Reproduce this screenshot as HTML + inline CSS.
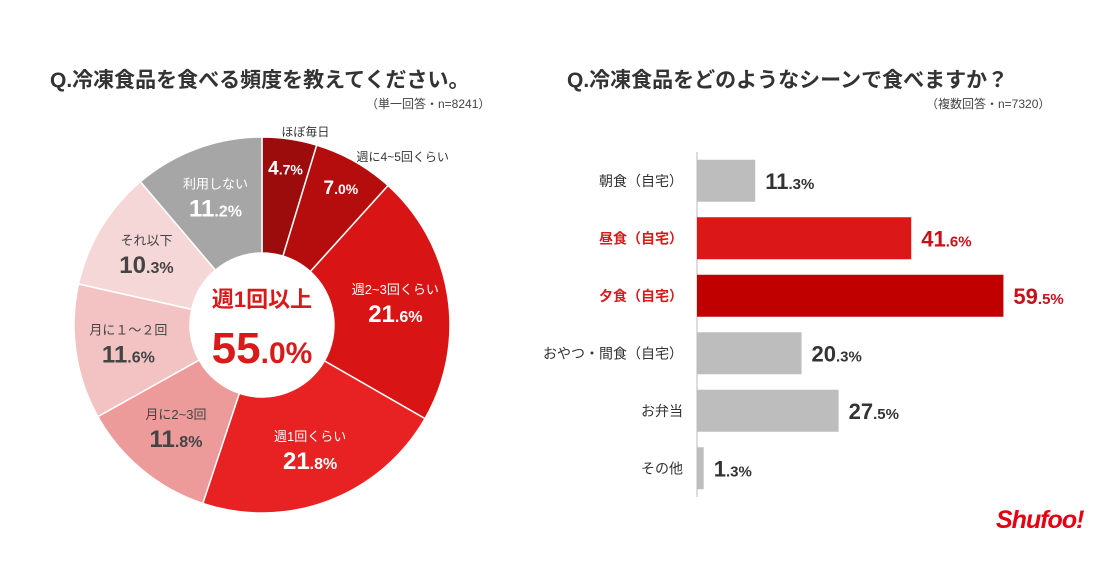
<!DOCTYPE html>
<html><head><meta charset="utf-8">
<style>
body{margin:0;width:1117px;height:586px;background:#fff;font-family:"Liberation Sans","Noto Sans CJK JP",sans-serif;overflow:hidden;position:relative}
.t{position:absolute;font-weight:bold;color:#333;font-size:21px;white-space:nowrap}
.s{position:absolute;color:#444;font-size:12px;white-space:nowrap}
svg{position:absolute;left:0;top:0}
</style></head><body>
<div class="t" style="left:50px;top:64px">Q.冷凍食品を食べる頻度を教えてください。</div>
<div class="s" style="left:366px;top:95px">（単一回答・n=8241）</div>
<div class="t" style="left:567px;top:64px">Q.冷凍食品をどのようなシーンで食べますか？</div>
<div class="s" style="left:926px;top:95px">（複数回答・n=7320）</div>
<svg id="c" width="1117" height="586"></svg>
<div style="position:absolute;left:996px;top:506px;color:#e50012;font-weight:bold;font-size:25px;font-style:italic;letter-spacing:-1px">Shufoo!</div>
<script>
const pieLabels=["ほぼ毎日","週に4~5回くらい","週2~3回くらい","週1回くらい","月に2~3回","月に１～２回","それ以下","利用しない"];
const pieValues=[4.7,7.0,21.6,21.8,11.8,11.6,10.3,11.2];
const pieColors=["#9c0c0c","#b50d0d","#d91414","#e82222","#ec9a9a","#f3c3c3","#f6d7d7","#a6a6a6"];
const barCats=["朝食（自宅）","昼食（自宅）","夕食（自宅）","おやつ・間食（自宅）","お弁当","その他"];
const barValues=[11.3,41.6,59.5,20.3,27.5,1.3];
const barColors=["#bdbdbd","#dc1717","#c00000","#bdbdbd","#bdbdbd","#bdbdbd"];
const NS="http://www.w3.org/2000/svg";
const svg=document.getElementById('c');
function mk(tag,attrs,parent){const e=document.createElementNS(NS,tag);for(const k in attrs)e.setAttribute(k,attrs[k]);(parent||svg).appendChild(e);return e;}
function pctText(parent,x,y,v,big,small,color,anchor){
  const s=v.toFixed(1).split('.');
  const t=mk('text',{x:x,y:y,'text-anchor':anchor,fill:color,'font-weight':'bold','font-size':big,'font-family':'Liberation Sans, sans-serif'},parent);
  t.textContent=s[0];
  const d=mk('tspan',{'font-size':small},t);d.textContent='.'+s[1]+'%';
  return t;
}
const cx=262,cy=325,R=188,r=72;
const total=pieValues.reduce((a,b)=>a+b,0);
let acc=0;
const pt=(a,rad)=>[cx+rad*Math.sin(a),cy-rad*Math.cos(a)];
pieValues.forEach((v,i)=>{
  const a0=acc/total*2*Math.PI;acc+=v;const a1=acc/total*2*Math.PI;
  const lg=(a1-a0)>Math.PI?1:0;
  const [x0,y0]=pt(a0,R),[x1,y1]=pt(a1,R),[x2,y2]=pt(a1,r),[x3,y3]=pt(a0,r);
  const p=mk('path',{d:`M${x0},${y0}A${R},${R} 0 ${lg} 1 ${x1},${y1}L${x2},${y2}A${r},${r} 0 ${lg} 0 ${x3},${y3}Z`,fill:pieColors[i],stroke:'#fff','stroke-width':1.5});
  
  
  const am=(a0+a1)/2;
  const small=i<2;
  const g=mk('g',{});
  
  
  const lc=(i==4||i==5||i==6)?'#444':'#fff';
  if(small){
    const [px,py]=pt(am,R-28);
    pctText(g,px,py+8,v,19,14,'#fff','middle');
    const [lx,ly]=pt(am,R+12);
    const lt=mk('text',{x:i==0?lx+14:lx-4,y:i==0?ly+9:ly+10,'text-anchor':i==0?'middle':'start','font-size':12,fill:'#333'},g);
    lt.textContent=pieLabels[i];
  } else {
    const rad=(r+R)/2+5;
    const [px,py]=pt(am,rad);
    const lt=mk('text',{x:px,y:py-10,'text-anchor':'middle','font-size':13,fill:lc},g);
    lt.textContent=pieLabels[i];
    pctText(g,px,py+18,v,24,16,lc,'middle');
  }
});
const cg=mk('g',{});


const ct=mk('text',{x:cx,y:cy-18,'text-anchor':'middle','font-size':22,'font-weight':'bold',fill:'#d81a1a'},cg);ct.textContent='週1回以上';
pctText(cg,cx,cy+38,55.0,44,30,'#d81a1a','middle');
const bx0=697,sc=5.15,topY=152,step=57.5,bh=42;
const xs=v=>bx0+v*sc;
const ax=mk('line',{x1:bx0,y1:topY,x2:bx0,y2:topY+step*barCats.length,stroke:'#bbb','stroke-width':1});


barCats.forEach((c,i)=>{
  const yc=topY+step*i+step/2;
  const b=mk('rect',{x:bx0,y:yc-bh/2,width:xs(barValues[i])-bx0,height:bh,fill:barColors[i]});
  
  
  const red=i==1||i==2;
  const lt=mk('text',{x:bx0-14,y:yc+5,'text-anchor':'end','font-size':14,fill:red?'#d81a1a':'#333','font-weight':red?'bold':'normal'});
  lt.textContent=c;
  
  
  const vt=pctText(svg,xs(barValues[i])+10,yc+8,barValues[i],22,15,red?'#c8101a':'#333','start');
  
  
});
</script>
</body></html>
